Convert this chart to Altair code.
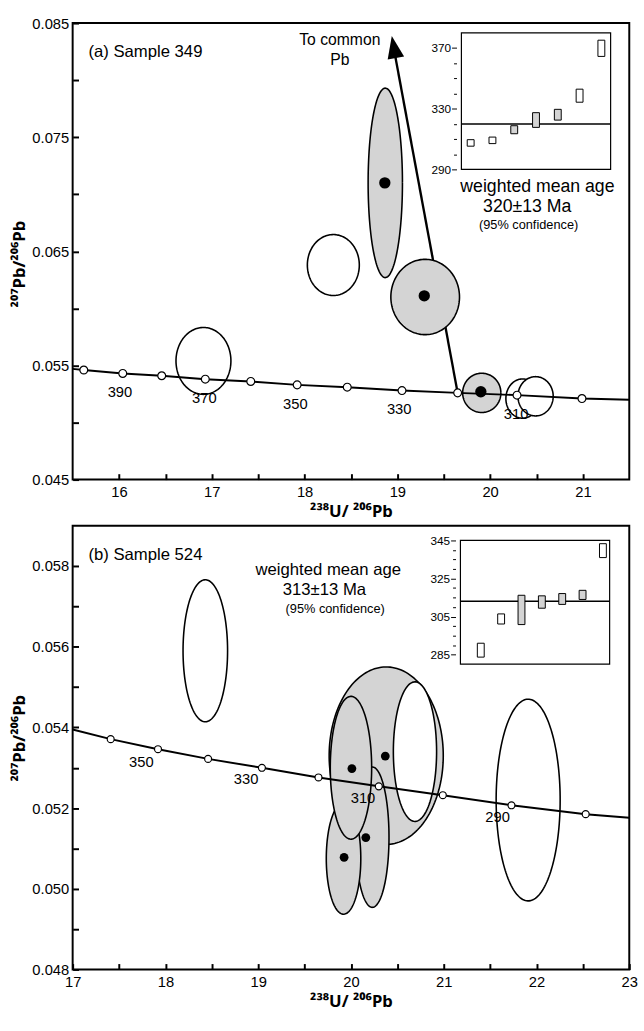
import altair as alt
import numpy as np
import pandas as pd

FONT = "Liberation Sans"
TITLE_FONT = "Noto Sans"
GREY = "#d4d4d4"

# ---------------- Panel (a) : Sample 349 ----------------
a_xdom = [15.5, 21.5]
a_ydom = [0.045, 0.085]
a_line_x = [15.5, 15.62, 16.04, 16.46, 16.93, 17.42, 17.92, 18.46, 19.05, 19.65, 20.29, 20.99, 21.5]
a_line_y = [0.0547, 0.0546, 0.0543, 0.0541, 0.0538, 0.0536, 0.0533, 0.0531, 0.0528, 0.0526, 0.0524, 0.0521, 0.0520]
a_mark_x = [15.62, 16.04, 16.46, 16.93, 17.42, 17.92, 18.46, 19.05, 19.65, 20.29, 20.99]
a_mark_y = [0.0546, 0.0543, 0.0541, 0.0538, 0.0536, 0.0533, 0.0531, 0.0528, 0.0526, 0.0524, 0.0521]
a_age_txt = ["390", "370", "350", "330", "310"]
a_age_x = [16.01, 16.92, 17.90, 19.02, 20.28]
a_age_y = [0.0527, 0.0521, 0.0516, 0.0512, 0.0507]
a_ell_cx = [16.91, 18.31, 18.87, 19.30, 19.91, 20.35, 20.49]
a_ell_cy = [0.0554, 0.0638, 0.0710, 0.0610, 0.0526, 0.0521, 0.0523]
a_ell_rx = [0.296, 0.28, 0.185, 0.37, 0.206, 0.18, 0.19]
a_ell_ry = [0.00293, 0.00267, 0.0083, 0.0033, 0.00172, 0.00172, 0.00172]
a_ell_fill = ["white", "white", GREY, GREY, GREY, "white", "white"]
a_dot_x = [18.865, 19.29, 19.90]
a_dot_y = [0.0710, 0.0611, 0.0527]
a_arrow_x = [19.65, 18.975]
a_arrow_y = [0.0526, 0.0822]
a_head_x = [18.94]
a_head_y = [0.08388]
a_ins_idx = [1, 2, 3, 4, 5, 6, 7]
a_ins_lo = [305.3, 307.0, 313.5, 317.7, 322.5, 334.3, 364.5]
a_ins_hi = [309.6, 311.3, 318.8, 327.4, 329.6, 342.9, 375.2]
a_ins_fill = ["white", "white", GREY, GREY, GREY, "white", "white"]
a_ins_mean = [320]
a_ins_xdom = [0.575, 7.425]
a_ins_ydom = [290, 380]

# ---------------- Panel (b) : Sample 524 ----------------
b_xdom = [17, 23]
b_ydom = [0.048, 0.059]
b_line_x = [17.0, 17.41, 17.92, 18.46, 19.04, 19.65, 20.30, 20.99, 21.73, 22.53, 23.0]
b_line_y = [0.05395, 0.05371, 0.05346, 0.05322, 0.0530, 0.05276, 0.05254, 0.05232, 0.05207, 0.05185, 0.05176]
b_mark_x = [17.41, 17.92, 18.46, 19.04, 19.65, 20.30, 20.99, 21.73, 22.53]
b_mark_y = [0.05371, 0.05346, 0.05322, 0.0530, 0.05276, 0.05254, 0.05232, 0.05207, 0.05185]
b_age_txt = ["350", "330", "310", "290"]
b_age_x = [17.74, 18.87, 20.13, 21.58]
b_age_y = [0.05315, 0.05273, 0.05224, 0.05178]
b_ell_cx = [18.43, 21.91, 20.38, 20.69, 20.23, 19.92, 20.0]
b_ell_cy = [0.0559, 0.0522, 0.0533, 0.0534, 0.05128, 0.05075, 0.0530]
b_ell_rx = [0.24, 0.345, 0.615, 0.233, 0.18, 0.186, 0.223]
b_ell_ry = [0.00176, 0.0025, 0.0022, 0.00173, 0.00174, 0.00138, 0.00177]
b_ell_fill = ["white", "white", GREY, "white", GREY, GREY, GREY]
b_dot_x = [20.37, 20.01, 19.926, 20.16]
b_dot_y = [0.05329, 0.05298, 0.05078, 0.05127]
b_ins_idx = [1, 2, 3, 4, 5, 6, 7]
b_ins_lo = [283.7, 301.1, 300.8, 309.4, 311.4, 314.0, 336.0]
b_ins_hi = [291.0, 306.4, 316.2, 315.9, 317.1, 318.8, 343.3]
b_ins_fill = ["white", "white", GREY, GREY, GREY, GREY, "white"]
b_ins_mean = [313]
b_ins_xdom = [0.0, 7.33]
b_ins_ydom = [280, 345]

# ---------------- texts ----------------
a_texts = [
    ("(a) Sample 349", 15.67, 0.0825, 17, "left"),
    ("To common", 18.38, 0.08353, 16, "center"),
    ("Pb", 18.38, 0.08172, 16, "center"),
    ("weighted mean age", 20.51, 0.0706, 18, "center"),
    ("320±13 Ma", 20.40, 0.06888, 18, "center"),
    ("(95% confidence)", 20.415, 0.06733, 13, "center"),
]
b_texts = [
    ("(b) Sample 524", 17.17, 0.05827, 17, "left"),
    ("weighted mean age", 19.756, 0.0579, 17, "center"),
    ("313±13 Ma", 19.714, 0.05741, 17, "center"),
    ("(95% confidence)", 19.83, 0.05693, 13, "center"),
]

X_TITLE = "²³⁸U/ ²⁰⁶Pb"
Y_TITLE = "²⁰⁷Pb/²⁰⁶Pb"


def ellipse_df(cx, cy, rx, ry, n=160):
    t = np.linspace(0, 2 * np.pi, n)
    return pd.DataFrame({"x": cx + rx * np.cos(t), "y": cy + ry * np.sin(t), "i": np.arange(n)})


def main_axes(xvals, yvals, ylabel_expr, title_y):
    common = dict(offset=-6, tickSize=6, tickWidth=2, tickColor="black", domain=False, grid=False,
                  labelFont=FONT, labelFontSize=15, labelColor="black", labelOverlap=False,
                  labelFlush=False, titleFont=TITLE_FONT, titleFontSize=17, titleFontWeight="bold",
                  titleColor="black")
    xa = alt.Axis(values=xvals, labelExpr="datum.value % 1 == 0 ? format(datum.value, 'd') : ''",
                  labelPadding=5, titlePadding=5, title=X_TITLE, **common)
    ya = alt.Axis(values=yvals, labelExpr=ylabel_expr, labelPadding=4, titlePadding=3,
                  title=Y_TITLE, titleY=title_y, **common)
    return xa, ya


def panel(xdom, ydom, xvals, yvals, ylab_expr, title_y, line_x, line_y, mark_x, mark_y, age_txt, age_x,
          age_y, ell_cx, ell_cy, ell_rx, ell_ry, ell_fill, dot_x, dot_y, dot_size, mark_size, texts,
          ins_idx, ins_lo, ins_hi, ins_fill, ins_mean, ins_xdom, ins_ydom, ins_xrange, ins_yrange,
          ins_axis, width, height, arrow=None):
    xa, ya = main_axes(xvals, yvals, ylab_expr, title_y)
    X = alt.X("x:Q", scale=alt.Scale(domain=xdom, nice=False, zero=False), axis=xa)
    Y = alt.Y("y:Q", scale=alt.Scale(domain=ydom, nice=False, zero=False), axis=ya)
    layers = []
    if arrow is not None:
        ax, ay, hx, hy = arrow
        layers.append(alt.Chart(pd.DataFrame({"x": ax, "y": ay, "i": [0, 1]})).mark_line(
            color="black", strokeWidth=2.4).encode(x=X, y=Y, order="i:Q"))
        layers.append(alt.Chart(pd.DataFrame({"x": hx, "y": hy})).mark_point(
            shape="M0,0L-0.85,2.3L0.85,2.3Z", filled=True, color="black", opacity=1,
            size=400, angle=349.5).encode(x=X, y=Y))
    for cx, cy, rx, ry, f in zip(ell_cx, ell_cy, ell_rx, ell_ry, ell_fill):
        layers.append(alt.Chart(ellipse_df(cx, cy, rx, ry)).mark_line(
            fill=f, stroke="black", strokeWidth=1.6).encode(x=X, y=Y, order="i:Q"))
    layers.append(alt.Chart(pd.DataFrame({"x": dot_x, "y": dot_y})).mark_point(
        shape="circle", filled=True, color="black", opacity=1, size=dot_size).encode(x=X, y=Y))
    layers.append(alt.Chart(pd.DataFrame({"x": line_x, "y": line_y, "i": range(len(line_x))})).mark_line(
        color="black", strokeWidth=2).encode(x=X, y=Y, order="i:Q"))
    layers.append(alt.Chart(pd.DataFrame({"x": mark_x, "y": mark_y})).mark_point(
        shape="circle", filled=True, fill="white", stroke="black", strokeWidth=1.2, opacity=1,
        size=mark_size).encode(x=X, y=Y))
    layers.append(alt.Chart(pd.DataFrame({"x": age_x, "y": age_y, "t": age_txt})).mark_text(
        font=FONT, fontSize=15, color="black", align="center", baseline="middle").encode(
        x=X, y=Y, text="t:N"))
    for t, x, y, fs, al in texts:
        layers.append(alt.Chart(pd.DataFrame({"x": [x], "y": [y], "t": [t]})).mark_text(
            font=FONT, fontSize=fs, color="black", align=al, baseline="middle").encode(
            x=X, y=Y, text="t:N"))
    main = alt.layer(*layers)

    IX = alt.X("ix:Q", scale=alt.Scale(domain=ins_xdom, range=ins_xrange, nice=False, zero=False), axis=None)
    IY = alt.Y("iy:Q", scale=alt.Scale(domain=ins_ydom, range=ins_yrange, nice=False, zero=False),
               axis=ins_axis)
    frame = alt.Chart(pd.DataFrame({"ix": [ins_xdom[0]], "ix2": [ins_xdom[1]],
                                    "iy": [ins_ydom[0]], "iy2": [ins_ydom[1]]})).mark_rect(
        fill="white", stroke="black", strokeWidth=1.2).encode(x=IX, x2="ix2:Q", y=IY, y2="iy2:Q")
    rule = alt.Chart(pd.DataFrame({"ix": [ins_xdom[0]], "ix2": [ins_xdom[1]], "iy": ins_mean})).mark_rule(
        color="black", strokeWidth=1.5).encode(x=IX, x2="ix2:Q", y=IY)
    bars = alt.Chart(pd.DataFrame({"ix": ins_idx, "iy": ins_lo, "iy2": ins_hi, "f": ins_fill})).mark_bar(
        size=7, stroke="black", strokeWidth=1).encode(
        x=IX, y=IY, y2="iy2:Q", fill=alt.Fill("f:N", scale=None))
    inset = alt.layer(frame, rule, bars)
    return alt.layer(main, inset).resolve_scale(x="independent", y="independent").properties(
        width=width, height=height)


def inset_axis(vals, test, offset):
    return alt.Axis(orient="left", offset=offset, values=vals, domain=False, grid=False, title=None,
                    labelExpr="(" + test + ") ? datum.label : ''",
                    tickSize={"condition": {"test": test, "value": 5}, "value": 3},
                    tickColor="black", tickWidth=1, labelFont=FONT, labelFontSize=12,
                    labelColor="black", labelPadding=1, labelOverlap=False, labelFlush=False)


a_xvals = [16, 16.5, 17, 17.5, 18, 18.5, 19, 19.5, 20, 20.5, 21]
a_yvals = [0.045, 0.05, 0.055, 0.06, 0.065, 0.07, 0.075, 0.08, 0.085]
b_xvals = [17, 17.5, 18, 18.5, 19, 19.5, 20, 20.5, 21, 21.5, 22, 22.5, 23]
b_yvals = [0.048, 0.049, 0.05, 0.051, 0.052, 0.053, 0.054, 0.055, 0.056, 0.057, 0.058]

chart_a = panel(a_xdom, a_ydom, a_xvals, a_yvals,
                "round(datum.value * 1000) % 10 == 5 ? format(datum.value, '.3f') : ''", 245,
                a_line_x, a_line_y, a_mark_x, a_mark_y, a_age_txt, a_age_x, a_age_y,
                a_ell_cx, a_ell_cy, a_ell_rx, a_ell_ry, a_ell_fill, a_dot_x, a_dot_y, 133, 64, a_texts,
                a_ins_idx, a_ins_lo, a_ins_hi, a_ins_fill, a_ins_mean, a_ins_xdom, a_ins_ydom,
                [391, 553], [149, 10],
                inset_axis([290, 300, 310, 320, 330, 340, 350, 360, 370], "datum.value % 40 == 10", -391),
                567, 465, arrow=(a_arrow_x, a_arrow_y, a_head_x, a_head_y))

chart_b = panel(b_xdom, b_ydom, b_xvals, b_yvals,
                "round(datum.value * 1000) % 2 == 0 ? format(datum.value, '.3f') : ''", 216,
                b_line_x, b_line_y, b_mark_x, b_mark_y, b_age_txt, b_age_x, b_age_y,
                b_ell_cx, b_ell_cy, b_ell_rx, b_ell_ry, b_ell_fill, b_dot_x, b_dot_y, 80, 50, b_texts,
                b_ins_idx, b_ins_lo, b_ins_hi, b_ins_fill, b_ins_mean, b_ins_xdom, b_ins_ydom,
                [390, 552], [141, 15],
                inset_axis(list(range(285, 350, 5)), "datum.value % 20 == 5", -390),
                567, 452)

chart = alt.vconcat(chart_a, chart_b, spacing=4).properties(
    padding={"left": 10, "top": 6, "right": 5, "bottom": 3}
).configure_view(stroke="black", strokeWidth=2)

chart.save("out.html", embed_options={"renderer": "svg", "actions": False})
